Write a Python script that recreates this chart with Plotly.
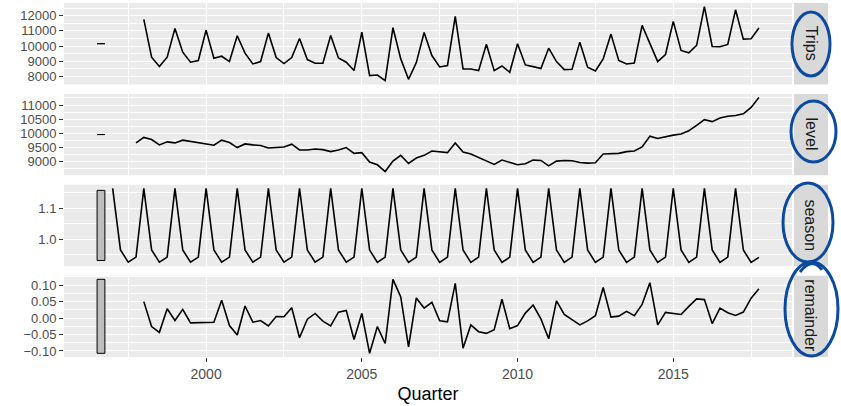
import plotly.graph_objects as go

# ---------------- data ----------------
trips = [11758, 9272, 8656, 9272, 11164, 9606, 8946, 9056,
         11054, 9206, 9338, 8986, 10680, 9540, 8832, 8986,
         10856, 9250, 8854, 9250, 10504, 9118, 8876, 8876,
         10702, 9228, 8946, 8396, 10922, 8062, 8106, 7732,
         11208, 9162, 7820, 8920, 10900, 9382, 8634, 8722,
         11956, 8502, 8502, 8392, 10130, 8392, 8700, 8282,
         10152, 8766, 8656, 8524, 9866, 8986, 8458, 8480,
         10262, 8612, 8370, 9162, 10790, 9056, 8832, 8898,
         11362, 10196, 8986, 9448, 11626, 9716, 9562, 10046,
         12590, 9980, 9958, 10112, 12385, 10460, 10482, 11186]

level = [9668,
         9858, 9786, 9596, 9703, 9667, 9762, 9715, 9667,
         9620, 9584, 9762, 9679, 9501, 9631, 9596, 9572,
         9489, 9512, 9524, 9620, 9417, 9417, 9453, 9429,
         9358, 9417, 9501, 9298, 9322, 8989, 8894, 8656,
         9025, 9227, 8941, 9132, 9227, 9382, 9358, 9322,
         9667, 9346, 9275, 9155, 9025, 8906, 9060, 8965,
         8894, 8929, 9060, 9048, 8858, 9025, 9048, 9036,
         8977, 8953, 8965, 9275, 9287, 9298, 9358, 9382,
         9524, 9905, 9822, 9893, 9941, 9977, 10096, 10286,
         10488, 10417, 10548, 10607, 10631, 10690, 10917, 11265]

season = [1.163, 0.966, 0.927, 0.943, 1.163, 0.966, 0.927, 0.943,
          1.163, 0.966, 0.927, 0.943, 1.163, 0.966, 0.927, 0.943,
          1.163, 0.966, 0.927, 0.943, 1.163, 0.966, 0.927, 0.943,
          1.163, 0.966, 0.927, 0.943, 1.163, 0.966, 0.927, 0.943,
          1.163, 0.966, 0.926, 0.943, 1.163, 0.966, 0.926, 0.943,
          1.163, 0.966, 0.926, 0.943, 1.163, 0.966, 0.926, 0.943,
          1.163, 0.966, 0.926, 0.943, 1.163, 0.966, 0.926, 0.943,
          1.163, 0.966, 0.926, 0.943, 1.163, 0.966, 0.926, 0.943,
          1.163, 0.966, 0.926, 0.943, 1.163, 0.966, 0.926, 0.943,
          1.163, 0.966, 0.926, 0.943, 1.163, 0.966, 0.926, 0.943,
          1.163, 0.966, 0.926, 0.942]

remainder = [0.0498, -0.0260, -0.0435, 0.0283, -0.0076, 0.0262, -0.0148, -0.0148,
             -0.0148, -0.0127, 0.0540, -0.0230, -0.0517, 0.0365, -0.0127, -0.0076,
             -0.0240, 0.0047, 0.0037, 0.0314, -0.0599, -0.0035, 0.0139, -0.0096,
             -0.0240, 0.0180, 0.0232, -0.0650, 0.0139, -0.1071, -0.0260, -0.0773,
             0.1175, 0.0642, -0.0876, 0.0611, 0.0303, 0.0478, -0.0086, -0.0117,
             0.1052, -0.0917, -0.0209, -0.0414, -0.0466, -0.0353, 0.0570, -0.0322,
             -0.0230, 0.0150, 0.0396, -0.0025, -0.0630, 0.0519, 0.0109, -0.0045,
             -0.0209, -0.0086, 0.0068, 0.0929, 0.0027, 0.0057, 0.0201, 0.0068,
             0.0416, 0.1073, -0.0209, 0.0170, 0.0139, 0.0109, 0.0355, 0.0580,
             0.0560, -0.0168, 0.0303, 0.0160, 0.0078, 0.0180, 0.0601, 0.0888]

panel_names = ["Trips", "level", "season", "remainder"]

trips_ticks = [8000, 9000, 10000, 11000, 12000]
level_ticks = [9000, 9500, 10000, 10500, 11000]
season_ticks = [1.0, 1.1]
season_ticklabels = ["1.0", "1.1"]
rem_ticks = [-0.10, -0.05, 0.00, 0.05, 0.10]
rem_ticklabels = ["\u22120.10", "\u22120.05", "0.00", "0.05", "0.10"]
x_ticks = [2000, 2005, 2010, 2015]
x_ticklabels = ["2000", "2005", "2010", "2015"]


def quarters(start_year, start_q, n):
    return [start_year + (start_q - 1 + i) / 4 for i in range(n)]


series = [
    (quarters(1998, 1, len(trips)), trips, trips_ticks, [str(t) for t in trips_ticks]),
    (quarters(1997, 4, len(level)), level, level_ticks, [str(t) for t in level_ticks]),
    (quarters(1997, 1, len(season)), season, season_ticks, season_ticklabels),
    (quarters(1998, 1, len(remainder)), remainder, rem_ticks, rem_ticklabels),
]

# ---------------- geometry / style ----------------
W, H = 841, 406
ML, MR, MT, MB = 64, 49, 3, 49
PW = W - ML - MR
PH = H - MT - MB
GAP = 9.5
PANEL_H = (PH - 3 * GAP) / 4

BAR_X0, BAR_X1 = 1996.5, 1996.75
FONT = "Liberation Sans, Arial, sans-serif"
TICK_FONT = dict(family=FONT, size=13, color="#4D4D4D")
PANEL_BG = "#EBEBEB"
STRIP_BG = "#D9D9D9"
BLUE = "#0B4A9E"


def px_x(x):
    return (x - ML) / PW


def px_y(y):
    return (MT + PH - y) / PH


ranges = [max(v) - min(v) for _, v, _, _ in series]
bar_h = min(ranges)

x_lo = BAR_X0
x_hi = max(max(s[0]) for s in series)
x_pad = (x_hi - x_lo) * 0.05
x_range = [x_lo - x_pad, x_hi + x_pad]

fig = go.Figure()
shapes = []
annotations = []

for k, (xs, ys, tv, tt) in enumerate(series):
    n = k + 1
    xa = "x" if n == 1 else f"x{n}"
    ya = "y" if n == 1 else f"y{n}"
    fig.add_trace(go.Scatter(x=xs, y=ys, mode="lines", xaxis=xa, yaxis=ya,
                             line=dict(color="black", width=1.6),
                             showlegend=False, hoverinfo="skip"))
    mid = (max(ys) + min(ys)) / 2
    b0, b1 = mid - bar_h / 2, mid + bar_h / 2
    lo = min(min(ys), b0)
    hi = max(max(ys), b1)
    pad = (hi - lo) * 0.05
    top_px = k * (PANEL_H + GAP)
    dom = [1 - (top_px + PANEL_H) / PH, 1 - top_px / PH]
    minor_vals = [(tv[i] + tv[i + 1]) / 2 for i in range(len(tv) - 1)]
    step = tv[1] - tv[0]
    minor_vals = [tv[0] - step / 2] + minor_vals + [tv[-1] + step / 2]
    ykey = "yaxis" if n == 1 else f"yaxis{n}"
    xkey = "xaxis" if n == 1 else f"xaxis{n}"
    fig.layout[ykey] = dict(domain=dom, range=[lo - pad, hi + pad], anchor=xa,
                            tickmode="array", tickvals=tv, ticktext=tt,
                            ticks="outside", ticklen=4, tickwidth=1.1, tickcolor="#333333",
                            tickfont=TICK_FONT, showgrid=True, gridcolor="white", gridwidth=1.2,
                            zeroline=False, showline=False,
                            minor=dict(tickvals=minor_vals, showgrid=True, gridcolor="white",
                                       gridwidth=0.6, ticklen=0))
    last = (n == 4)
    fig.layout[xkey] = dict(domain=[0, 1], range=x_range, anchor=ya,
                            matches=None if n == 1 else "x",
                            tickmode="array", tickvals=x_ticks, ticktext=x_ticklabels,
                            showticklabels=last, ticks="outside" if last else "",
                            ticklen=4, tickwidth=1.1, tickcolor="#333333",
                            tickfont=dict(family=FONT, size=14, color="#4D4D4D"),
                            showgrid=True, gridcolor="white", gridwidth=1.2,
                            zeroline=False, showline=False,
                            minor=dict(tickvals=[1997.5, 2002.5, 2007.5, 2012.5, 2017.5],
                                       showgrid=True, gridcolor="white", gridwidth=0.6,
                                       ticklen=0))
    if last:
        fig.layout[xkey].title = dict(text="Quarter", font=dict(family=FONT, size=18, color="black"),
                                      standoff=6)
    # panel background
    shapes.append(dict(type="rect", xref=f"{xa} domain", yref=f"{ya} domain",
                       x0=0, x1=1, y0=0, y1=1, fillcolor=PANEL_BG, line=dict(width=0),
                       layer="below"))
    # scale bar
    shapes.append(dict(type="rect", xref=xa, yref=ya, x0=BAR_X0, x1=BAR_X1, y0=b0, y1=b1,
                       fillcolor="#BEBEBE", line=dict(color="black", width=1), layer="above"))
    # strip
    shapes.append(dict(type="rect", xref="paper", yref=f"{ya} domain",
                       x0=px_x(794), x1=px_x(828), y0=0, y1=1,
                       fillcolor=STRIP_BG, line=dict(width=0), layer="below"))
    annotations.append(dict(text=panel_names[k], xref="paper", yref=f"{ya} domain",
                            x=px_x(811), y=0.5, showarrow=False, textangle=90,
                            font=dict(family=FONT, size=16, color="#1A1A1A"),
                            xanchor="center", yanchor="middle"))

# hand-drawn blue loops around the strip labels
loops = [(792, 12, 830, 76), (791, 101, 836, 162), (783, 183, 833, 262), (785, 262, 838, 356)]
for x0, y0, x1, y1 in loops:
    shapes.append(dict(type="circle", xref="paper", yref="paper",
                       x0=px_x(x0), x1=px_x(x1), y0=px_y(y1), y1=px_y(y0),
                       line=dict(color=BLUE, width=3), layer="above"))
tail = "M {:.4f},{:.4f} Q {:.4f},{:.4f} {:.4f},{:.4f}".format(
    px_x(800), px_y(272), px_x(812), px_y(256), px_x(822), px_y(270))
shapes.append(dict(type="path", xref="paper", yref="paper", path=tail,
                   line=dict(color=BLUE, width=3), layer="above"))

fig.update_layout(width=W, height=H, margin=dict(l=ML, r=MR, t=MT, b=MB),
                  paper_bgcolor="white", plot_bgcolor="rgba(0,0,0,0)",
                  shapes=shapes, annotations=annotations, showlegend=False,
                  font=dict(family=FONT))

fig.write_html("out.html")
